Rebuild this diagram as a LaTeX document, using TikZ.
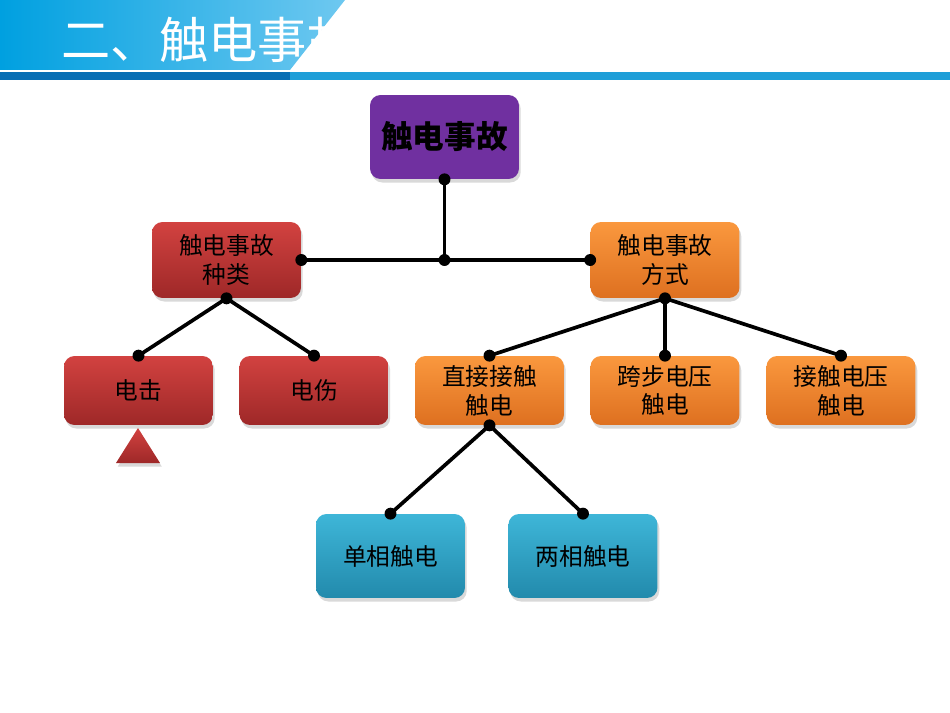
\documentclass[tikz,border=0pt]{standalone}
\usepackage{fontspec}
\setmainfont{Noto Sans CJK SC}
\usetikzlibrary{shadows}
\definecolor{purplebox}{RGB}{112,48,160}
\definecolor{redtop}{RGB}{210,66,64}
\definecolor{redbot}{RGB}{158,40,40}
\definecolor{orangetop}{RGB}{250,152,62}
\definecolor{orangebot}{RGB}{222,112,32}
\definecolor{bluetop}{RGB}{62,182,216}
\definecolor{bluebot}{RGB}{34,138,172}
\definecolor{headleft}{RGB}{0,160,224}
\definecolor{headright}{RGB}{110,200,240}
\definecolor{bardark}{RGB}{8,110,180}
\definecolor{barlight}{RGB}{30,158,216}
\tikzset{
	box/.style={rounded corners=6pt, align=center, text=black,
		minimum width=2.98cm, minimum height=1.38cm, inner sep=2pt,
		font=\fontsize{13.5}{16.5}\selectfont,
		drop shadow={opacity=0.3, shadow xshift=1pt, shadow yshift=-2pt}},
	topbox/.style={box, fill=purplebox, minimum height=1.68cm,
		font=\fontsize{18}{20}\selectfont\bfseries},
	redbox/.style={box, top color=redtop, bottom color=redbot},
	orangebox/.style={box, top color=orangetop, bottom color=orangebot, minimum height=1.52cm},
	bluebox/.style={box, top color=bluetop, bottom color=bluebot, minimum height=1.68cm},
	link/.style={line width=2.1pt},
	dot/.style={circle, fill=black, inner sep=0pt, minimum size=6.8pt}
}

\begin{document}
\begin{tikzpicture}[x=0.02cm, y=-0.02cm]
	\useasboundingbox (0,0) rectangle (950,713);
	
	% title band
	\shade[left color=headleft, right color=headright] (0,0) -- (345,0) -- (290,70) -- (0,70) -- cycle;
	\fill[white, opacity=0.5] (0,70) rectangle (290,72);
	\begin{scope}
		\clip (0,0) -- (345,0) -- (290,70) -- (0,70) -- cycle;
		\node[anchor=west, text=white, font=\fontsize{28}{30}\selectfont] (title) at (55,40) {二、触电事故};
	\end{scope}
	\fill[bardark] (0,72) rectangle (290,80);
	\fill[barlight] (290,72) rectangle (950,80);
	
	% boxes
	\node[topbox] (accident) at (444.5,137) {触电事故};
	\node[redbox, minimum height=1.52cm] (kind) at (226.5,260) {触电事故\\种类};
	\node[orangebox] (mode) at (665,260) {触电事故\\方式};
	
	\node[redbox] (shock) at (138.5,390.5) {电击};
	\node[redbox] (burn) at (314,390.5) {电伤};
	\node[orangebox, minimum height=1.38cm] (direct) at (489.5,390.5) {直接接触\\触电};
	\node[orangebox, minimum height=1.38cm] (stepv) at (665,390.5) {跨步电压\\触电};
	\node[orangebox, minimum height=1.38cm] (touchv) at (841,390.5) {接触电压\\触电};
	
	\node[bluebox] (single) at (390.5,556) {单相触电};
	\node[bluebox] (double) at (583,556) {两相触电};
	
	% triangle under shock
	\shade[top color=redtop, bottom color=redbot, drop shadow={opacity=0.3, shadow xshift=1pt, shadow yshift=-2pt}]
		(138,428) -- (160,463) -- (116,463) -- cycle;
	
	% connectors
	\coordinate (junction) at (accident.south |- kind.east);
	\draw[link] (accident.south) -- (junction);
	\draw[link] (kind.east) -- (mode.west);
	\draw[link] (kind.south) -- (shock.north);
	\draw[link] (kind.south) -- (burn.north);
	\draw[link] (mode.south) -- (direct.north);
	\draw[link] (mode.south) -- (stepv.north);
	\draw[link] (mode.south) -- (touchv.north);
	\draw[link] (direct.south) -- (single.north);
	\draw[link] (direct.south) -- (double.north);
	
	% dots
	\foreach \pt in {accident.south, junction, kind.east, mode.west, kind.south, shock.north, burn.north,
		mode.south, direct.north, stepv.north, touchv.north, direct.south, single.north, double.north}
		\node[dot] at (\pt) {};
\end{tikzpicture}
\end{document}
